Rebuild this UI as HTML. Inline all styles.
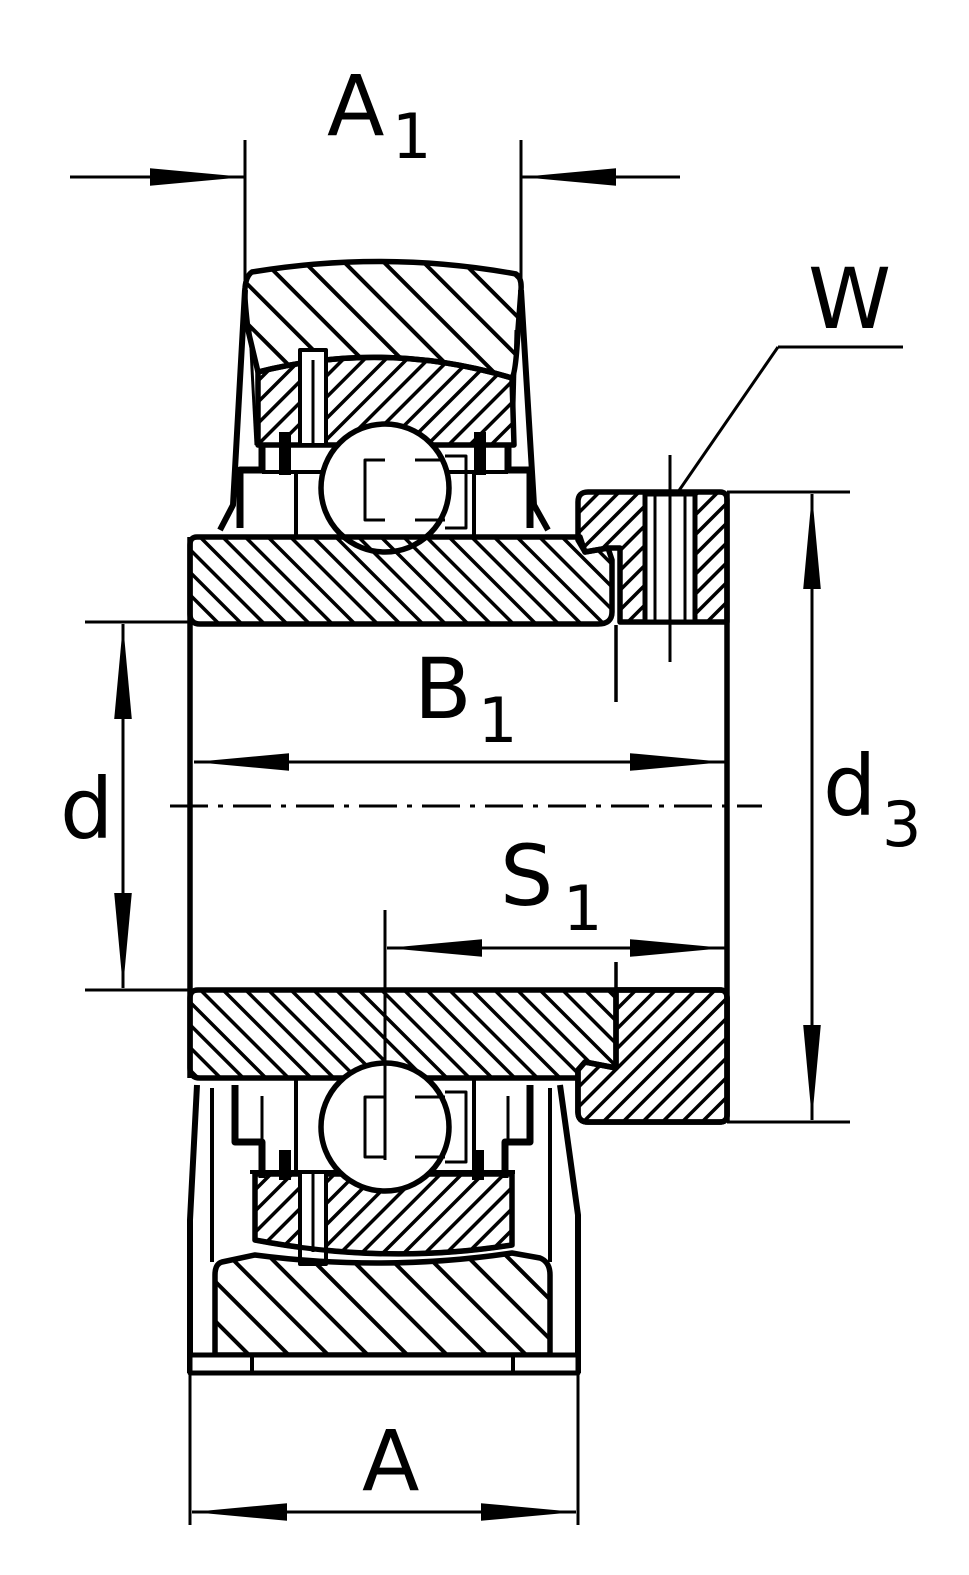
<!DOCTYPE html>
<html><head><meta charset="utf-8"><style>
html,body{margin:0;padding:0;background:#fff;}
svg{display:block;}
text{font-family:"DejaVu Sans","Liberation Sans",sans-serif;fill:#000;}
</style></head><body>
<svg width="969" height="1575" viewBox="0 0 969 1575" xmlns="http://www.w3.org/2000/svg">
<defs>
<pattern id="hB" width="28" height="28" patternUnits="userSpaceOnUse" patternTransform="rotate(-45)"><rect x="0" y="0" width="4" height="28" fill="#000"/></pattern>
<pattern id="hI" width="16" height="16" patternUnits="userSpaceOnUse" patternTransform="rotate(-45)"><rect x="0" y="0" width="3.5" height="16" fill="#000"/></pattern>
<pattern id="hO" width="15" height="15" patternUnits="userSpaceOnUse" patternTransform="rotate(45)"><rect x="0" y="0" width="3.5" height="15" fill="#000"/></pattern>
<pattern id="hC" width="14" height="14" patternUnits="userSpaceOnUse" patternTransform="rotate(45)"><rect x="0" y="0" width="3.5" height="14" fill="#000"/></pattern>
<marker id="ar" viewBox="0 0 10 10" refX="10" refY="5" markerWidth="95" markerHeight="22" markerUnits="userSpaceOnUse" orient="auto" preserveAspectRatio="none"><path d="M0,1 L10,5 L0,9 Z" fill="#000"/></marker>
</defs>
<g fill="none" stroke="#000" stroke-width="5.5" stroke-linejoin="round">
<!-- TOP housing ring -->
<path d="M252,272 Q385,250 516,274 Q522,278 521,290 L518,330 Q516,372 512,378 Q385,340 258,372 L248,330 Q244,295 245,288 Q246,276 252,272 Z" fill="url(#hB)"/>
<!-- top bearing outer ring -->
<path d="M258,372 Q385,340 512,378 L514,445 L258,445 Z" fill="url(#hO)"/>
<rect x="300" y="350" width="26" height="95" fill="#fff" stroke-width="4"/>
<line x1="313" y1="360" x2="313" y2="445" stroke-width="3"/>
<!-- top seals -->
<path d="M262,445 L262,470 L240,470 L240,528" stroke-width="7"/>
<path d="M285,432 L285,475" stroke-width="12"/>
<path d="M508,445 L508,470 L530,470 L530,528" stroke-width="7"/>
<path d="M480,432 L480,475" stroke-width="12"/>
<line x1="262" y1="472" x2="508" y2="472" stroke-width="4"/>
<line x1="296" y1="472" x2="296" y2="535" stroke-width="4"/>
<line x1="474" y1="472" x2="474" y2="535" stroke-width="4"/>
<!-- housing sides top -->
<path d="M245,290 L233,505 L220,530" stroke-width="6"/>
<path d="M521,290 L534,505 L548,530" stroke-width="6"/>
<path d="M250,330 L256,445" stroke-width="3"/>
<path d="M516,330 L513,445" stroke-width="3"/>
<!-- ball top -->
<circle cx="385" cy="488" r="64" fill="#fff"/>
<path d="M385,460 L365,460 L365,520 L385,520 M415,460 L445,460 M415,520 L445,520" stroke-width="3"/>
<path d="M445,456 L466,456 L466,528 L445,528" stroke-width="3"/>
<!-- top inner ring -->
<path d="M197,537 L580,537 L585,552 L608,548 L612,560 L612,612 Q612,624 598,624 L200,624 Q190,624 190,614 L190,545 Q190,537 197,537 Z" fill="url(#hI)"/>
<!-- collar top -->
<path d="M588,492 L720,492 Q727,492 727,500 L727,622 L620,622 L620,548 L608,548 L585,552 L578,540 L578,502 Q578,492 588,492 Z" fill="url(#hC)"/>
<rect x="645" y="494" width="50" height="128" fill="#fff" stroke-width="5"/>
<line x1="655" y1="496" x2="655" y2="620" stroke-width="3"/>
<line x1="685" y1="496" x2="685" y2="620" stroke-width="3"/>
<!-- main verticals -->
<line x1="190" y1="537" x2="190" y2="1078"/>
<line x1="727" y1="492" x2="727" y2="1122"/>
<!-- BOTTOM inner ring + collar -->
<path d="M198,990 L720,990 Q727,990 727,998 L727,1115 Q727,1122 720,1122 L588,1122 Q578,1122 578,1112 L578,1070 L585,1062 L612,1068 L612,1078 L200,1078 Q190,1078 190,1068 L190,998 Q190,990 198,990 Z" fill="url(#hI)"/>
<path d="M616,990 L720,990 Q727,990 727,998 L727,1115 Q727,1122 720,1122 L588,1122 Q578,1122 578,1112 L578,1070 L585,1062 L616,1068 Z" fill="#fff"/>
<path d="M616,990 L720,990 Q727,990 727,998 L727,1115 Q727,1122 720,1122 L588,1122 Q578,1122 578,1112 L578,1070 L585,1062 L616,1068 Z" fill="url(#hC)"/>
<!-- bottom seals -->
<path d="M235,1085 L235,1142 L262,1142 L262,1178" stroke-width="7"/>
<path d="M285,1150 L285,1180" stroke-width="12"/>
<path d="M530,1085 L530,1142 L505,1142 L505,1178" stroke-width="7"/>
<path d="M478,1150 L478,1180" stroke-width="12"/>
<line x1="262" y1="1096" x2="262" y2="1142" stroke-width="3"/>
<line x1="508" y1="1096" x2="508" y2="1142" stroke-width="3"/>
<line x1="296" y1="1080" x2="296" y2="1172" stroke-width="4"/>
<line x1="474" y1="1080" x2="474" y2="1172" stroke-width="4"/>
<line x1="250" y1="1172" x2="515" y2="1172" stroke-width="4"/>
<!-- bottom bearing outer ring -->
<path d="M255,1174 L512,1174 L512,1245 Q385,1265 255,1240 Z" fill="url(#hO)"/>
<rect x="300" y="1172" width="26" height="92" fill="#fff" stroke-width="4"/>
<line x1="313" y1="1174" x2="313" y2="1252" stroke-width="3"/>
<!-- ball bottom -->
<circle cx="385" cy="1127" r="64" fill="#fff"/>
<path d="M385,1097 L365,1097 L365,1157 L385,1157 M415,1097 L445,1097 M415,1157 L445,1157" stroke-width="3"/>
<path d="M445,1092 L466,1092 L466,1162 L445,1162" stroke-width="3"/>
<!-- bottom housing -->
<path d="M222,1262 L255,1255 Q385,1272 512,1253 L540,1258 Q550,1262 550,1275 L550,1355 L215,1355 L215,1275 Q215,1264 222,1262 Z" fill="url(#hB)"/>
<path d="M255,1240 Q385,1265 512,1245" stroke-width="5"/>
<!-- bottom housing sides -->
<path d="M197,1085 L190,1220 L190,1373" stroke-width="6"/>
<path d="M560,1085 L578,1215 L578,1373" stroke-width="6"/>
<line x1="212" y1="1088" x2="212" y2="1262" stroke-width="4"/>
<line x1="550" y1="1088" x2="550" y2="1262" stroke-width="4"/>
<rect x="190" y="1355" width="388" height="18" fill="#fff" stroke-width="5"/>
<line x1="252" y1="1355" x2="252" y2="1373" stroke-width="4"/>
<line x1="513" y1="1355" x2="513" y2="1373" stroke-width="4"/>
</g>
<!-- thin lines / dimensions -->
<g stroke="#000" stroke-width="3" fill="none">
<line x1="245" y1="140" x2="245" y2="280"/>
<line x1="521" y1="140" x2="521" y2="280"/>
<line x1="70" y1="177" x2="245" y2="177" marker-end="url(#ar)"/>
<line x1="680" y1="177" x2="521" y2="177" marker-end="url(#ar)"/>
<line x1="903" y1="347" x2="778" y2="347"/>
<line x1="778" y1="347" x2="678" y2="492"/>
<line x1="670" y1="455" x2="670" y2="662"/>
<line x1="727" y1="492" x2="850" y2="492"/>
<line x1="727" y1="1122" x2="850" y2="1122"/>
<line x1="812" y1="800" x2="812" y2="494" marker-end="url(#ar)"/>
<line x1="812" y1="800" x2="812" y2="1120" marker-end="url(#ar)"/>
<line x1="85" y1="622" x2="190" y2="622"/>
<line x1="85" y1="990" x2="190" y2="990"/>
<line x1="123" y1="800" x2="123" y2="624" marker-end="url(#ar)"/>
<line x1="123" y1="800" x2="123" y2="988" marker-end="url(#ar)"/>
<line x1="460" y1="762" x2="194" y2="762" marker-end="url(#ar)"/>
<line x1="460" y1="762" x2="725" y2="762" marker-end="url(#ar)"/>
<line x1="385" y1="910" x2="385" y2="1160"/>
<line x1="560" y1="948" x2="387" y2="948" marker-end="url(#ar)"/>
<line x1="560" y1="948" x2="725" y2="948" marker-end="url(#ar)"/>
<line x1="170" y1="806" x2="762" y2="806" stroke-dasharray="38,10,5,10"/>
<line x1="616" y1="625" x2="616" y2="702" stroke-width="3.5"/>
<line x1="616" y1="962" x2="616" y2="1000" stroke-width="3.5"/>
<line x1="190" y1="1373" x2="190" y2="1525"/>
<line x1="578" y1="1373" x2="578" y2="1525"/>
<line x1="385" y1="1512" x2="192" y2="1512" marker-end="url(#ar)"/>
<line x1="385" y1="1512" x2="576" y2="1512" marker-end="url(#ar)"/>
</g>
<!-- labels -->
<text x="327" y="135" font-size="84">A</text>
<text x="392" y="158" font-size="62">1</text>
<text x="808" y="328" font-size="84">W</text>
<text x="823" y="815" font-size="84">d</text>
<text x="882" y="846" font-size="62">3</text>
<text x="60" y="838" font-size="84">d</text>
<text x="414" y="718" font-size="84">B</text>
<text x="478" y="742" font-size="62">1</text>
<text x="500" y="905" font-size="84">S</text>
<text x="563" y="930" font-size="62">1</text>
<text x="362" y="1490" font-size="84">A</text>
</svg>
</body></html>
